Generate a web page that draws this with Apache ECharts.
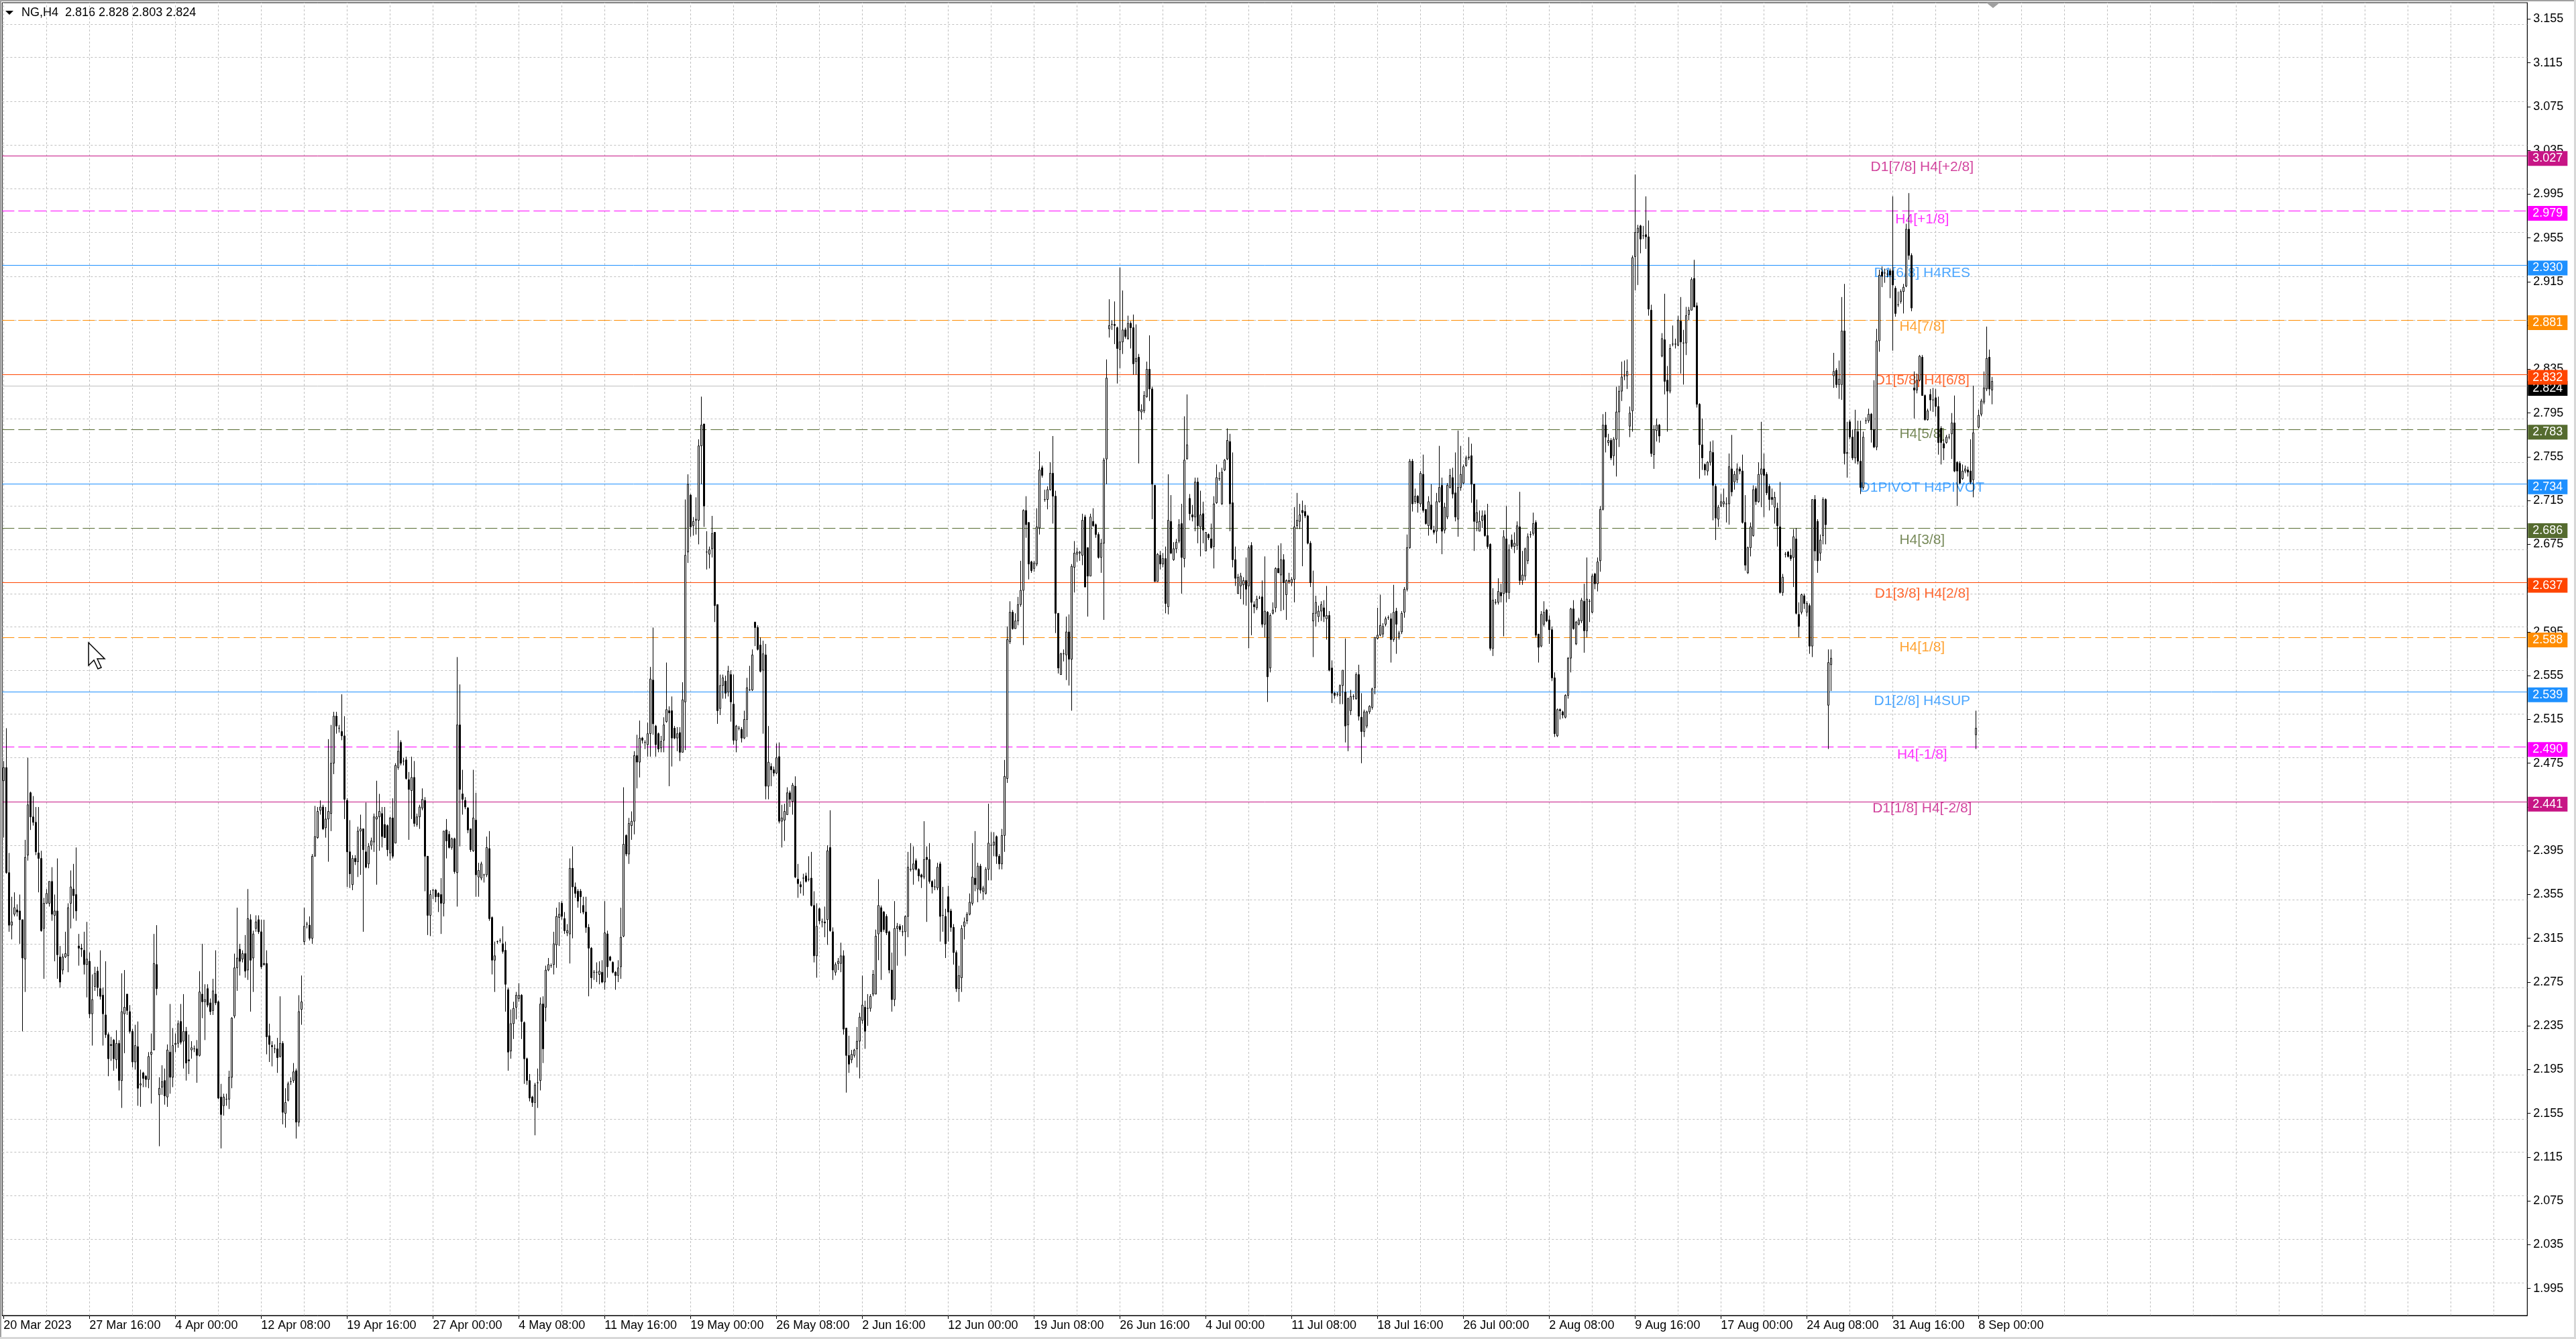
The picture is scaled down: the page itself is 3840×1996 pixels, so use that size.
<!DOCTYPE html>
<html>
<head>
<meta charset="utf-8">
<title>NG,H4</title>
<script src="https://cdn.jsdelivr.net/npm/echarts@6.0.0/dist/echarts.min.js"></script>
<style>
    html, body { margin: 0; padding: 0; background: #fff; }
    #chart { width: 3840px; height: 1996px; }
</style>
</head>
<body>
<div id="chart"></div>
<script>
/*
   NG,H4 candles with D1 / H4 octave levels
   bar = [open, close, low, high]
*/

// ========================================
// candles, read bar by bar
// ========================================

const barsMarApr = [
[2.459,2.471,2.407,2.477],[2.471,2.375,2.374,2.507],[2.375,2.327,2.321,2.393],[2.327,2.330,2.314,2.353],
[2.337,2.343,2.335,2.357],[2.341,2.339,2.335,2.346],[2.340,2.332,2.310,2.355],[2.332,2.297,2.230,2.332],
[2.296,2.389,2.266,2.405],[2.391,2.437,2.386,2.480],[2.448,2.426,2.414,2.449],[2.426,2.421,2.418,2.445],
[2.421,2.394,2.391,2.435],[2.393,2.388,2.357,2.435],[2.388,2.322,2.321,2.395],[2.324,2.347,2.278,2.352],
[2.347,2.356,2.347,2.360],[2.347,2.367,2.344,2.367],[2.367,2.337,2.331,2.380],[2.336,2.340,2.294,2.355],
[2.340,2.300,2.278,2.388],[2.298,2.275,2.270,2.308],[2.286,2.298,2.282,2.301],[2.298,2.301,2.297,2.321],
[2.299,2.343,2.284,2.347],[2.347,2.362,2.324,2.377],[2.360,2.354,2.333,2.383],[2.355,2.340,2.331,2.398],
[2.308,2.306,2.290,2.319],[2.306,2.305,2.298,2.310],[2.304,2.291,2.282,2.321],[2.291,2.296,2.261,2.330],
[2.294,2.246,2.242,2.302],[2.246,2.259,2.217,2.282],[2.271,2.283,2.267,2.289],[2.285,2.270,2.262,2.289],
[2.269,2.262,2.259,2.304],[2.263,2.246,2.217,2.270],[2.245,2.227,2.224,2.294],[2.227,2.205,2.189,2.229],
[2.218,2.217,2.203,2.225],[2.222,2.205,2.194,2.223],[2.204,2.219,2.196,2.231],[2.219,2.185,2.176,2.222],
[2.185,2.248,2.160,2.283],[2.246,2.252,2.210,2.286],[2.264,2.249,2.245,2.264],[2.248,2.230,2.228,2.254],
[2.230,2.202,2.197,2.232],[2.202,2.217,2.195,2.236],[2.216,2.178,2.162,2.239],[2.181,2.182,2.161,2.195],
[2.192,2.187,2.179,2.193],[2.189,2.186,2.179,2.190],[2.186,2.207,2.178,2.211],[2.209,2.211,2.164,2.228],
[2.213,2.292,2.213,2.319],[2.291,2.269,2.263,2.327],[2.172,2.178,2.125,2.188],[2.179,2.184,2.172,2.199],
[2.185,2.171,2.163,2.196],[2.170,2.213,2.161,2.218],[2.211,2.188,2.173,2.255],[2.188,2.217,2.179,2.233],
[2.218,2.219,2.211,2.228],[2.219,2.237,2.215,2.240],[2.239,2.220,2.218,2.255],[2.221,2.230,2.196,2.264],
[2.230,2.201,2.185,2.234],[2.204,2.203,2.191,2.227],[2.213,2.215,2.205,2.221],[2.214,2.214,2.211,2.217],
[2.214,2.208,2.183,2.222],[2.208,2.266,2.207,2.285],[2.264,2.257,2.242,2.310],[2.257,2.259,2.222,2.273],
[2.269,2.254,2.252,2.273],[2.256,2.248,2.245,2.260],[2.249,2.267,2.245,2.278],[2.264,2.256,2.254,2.304],
[2.257,2.169,2.168,2.258],[2.170,2.154,2.123,2.182],[2.162,2.170,2.153,2.173],[2.168,2.168,2.162,2.173],
[2.168,2.188,2.159,2.194],[2.188,2.242,2.178,2.243],[2.244,2.288,2.242,2.301],[2.288,2.297,2.267,2.343],
[2.305,2.294,2.281,2.310],[2.296,2.301,2.293,2.304],[2.301,2.285,2.279,2.318],[2.286,2.333,2.277,2.360],
[2.332,2.295,2.248,2.337],[2.297,2.319,2.266,2.322],[2.324,2.330,2.321,2.336],[2.332,2.321,2.319,2.336],
[2.321,2.289,2.287,2.332],[2.292,2.291,2.290,2.332],[2.292,2.225,2.209,2.304],[2.226,2.218,2.202,2.237],
[2.217,2.216,2.198,2.221],[2.214,2.214,2.210,2.218],[2.214,2.206,2.192,2.224],[2.207,2.219,2.206,2.262],
[2.219,2.156,2.145,2.221],[2.155,2.165,2.142,2.178],[2.167,2.182,2.166,2.184],[2.184,2.184,2.181,2.188],
[2.185,2.193,2.183,2.201]
];

const barsAprMay = [
[2.194,2.147,2.132,2.196],[2.147,2.248,2.143,2.263],[2.250,2.257,2.236,2.281],[2.312,2.326,2.309,2.343],
[2.328,2.328,2.324,2.330],[2.327,2.315,2.313,2.335],[2.315,2.390,2.310,2.392],[2.390,2.408,2.390,2.436],
[2.407,2.431,2.406,2.435],[2.432,2.435,2.428,2.441],[2.435,2.415,2.414,2.437],[2.416,2.424,2.407,2.435],
[2.424,2.431,2.385,2.497],[2.429,2.475,2.413,2.510],[2.475,2.518,2.465,2.522],[2.518,2.509,2.502,2.522],
[2.507,2.507,2.503,2.510],[2.504,2.500,2.496,2.538],[2.500,2.442,2.424,2.518],[2.441,2.394,2.362,2.443],
[2.394,2.374,2.361,2.423],[2.364,2.388,2.359,2.391],[2.388,2.385,2.382,2.391],[2.385,2.413,2.371,2.417],
[2.413,2.415,2.373,2.428],[2.415,2.396,2.321,2.415],[2.394,2.380,2.379,2.439],[2.383,2.399,2.379,2.402],
[2.400,2.404,2.396,2.407],[2.403,2.426,2.394,2.429],[2.424,2.426,2.364,2.459],[2.426,2.431,2.395,2.447],
[2.429,2.408,2.398,2.435],[2.419,2.407,2.407,2.435],[2.418,2.396,2.390,2.419],[2.393,2.425,2.386,2.426],
[2.425,2.390,2.388,2.443],[2.402,2.473,2.402,2.475],[2.471,2.486,2.469,2.505],[2.494,2.475,2.473,2.496],
[2.477,2.477,2.473,2.480],[2.478,2.461,2.460,2.481],[2.460,2.451,2.405,2.467],[2.450,2.462,2.424,2.481],
[2.462,2.420,2.417,2.477],[2.419,2.426,2.417,2.429],[2.426,2.435,2.415,2.437],[2.434,2.442,2.432,2.452],
[2.441,2.390,2.358,2.444],[2.390,2.336,2.318,2.390],[2.336,2.355,2.317,2.359],[2.359,2.359,2.351,2.360],
[2.359,2.353,2.348,2.360],[2.356,2.353,2.339,2.357],[2.355,2.347,2.319,2.370],[2.347,2.413,2.335,2.413],
[2.414,2.404,2.388,2.424],[2.410,2.398,2.397,2.413],[2.398,2.406,2.396,2.407],[2.406,2.376,2.374,2.407],
[2.375,2.510,2.344,2.572],[2.510,2.451,2.399,2.547],[2.447,2.442,2.428,2.469],[2.441,2.435,2.433,2.444],
[2.434,2.414,2.411,2.435],[2.415,2.396,2.394,2.415],[2.395,2.425,2.394,2.469],[2.423,2.373,2.353,2.448],
[2.371,2.377,2.353,2.384],[2.370,2.383,2.368,2.385],[2.373,2.373,2.366,2.374],[2.373,2.398,2.371,2.408],
[2.397,2.333,2.331,2.413],[2.334,2.295,2.282,2.335],[2.295,2.299,2.266,2.312],[2.312,2.312,2.310,2.313],
[2.313,2.313,2.311,2.315],[2.310,2.303,2.301,2.326],[2.304,2.273,2.248,2.312],[2.268,2.211,2.194,2.270],
[2.212,2.237,2.205,2.250],[2.237,2.251,2.223,2.257],[2.252,2.263,2.241,2.266],[2.260,2.263,2.257,2.274],
[2.263,2.239,2.223,2.264],[2.238,2.205,2.182,2.239],[2.205,2.185,2.181,2.206],[2.185,2.169,2.166,2.191],
[2.170,2.165,2.161,2.171],[2.165,2.181,2.135,2.183],[2.183,2.183,2.160,2.196],[2.185,2.255,2.176,2.261],
[2.255,2.214,2.201,2.262],[2.252,2.286,2.239,2.290],[2.286,2.291,2.285,2.297],[2.290,2.290,2.288,2.292],
[2.291,2.310,2.282,2.321],[2.309,2.335,2.288,2.343],[2.334,2.337,2.308,2.348],[2.347,2.335,2.332,2.349],
[2.333,2.322,2.319,2.339],[2.320,2.322,2.317,2.328],[2.319,2.379,2.292,2.388],[2.379,2.362,2.315,2.399],
[2.362,2.356,2.352,2.366]
];

const barsMayJun = [
[2.358,2.349,2.343,2.360],[2.358,2.353,2.338,2.360],[2.345,2.339,2.337,2.353],[2.339,2.325,2.320,2.353],
[2.325,2.306,2.262,2.328],[2.306,2.279,2.269,2.307],[2.284,2.284,2.277,2.286],[2.284,2.284,2.275,2.293],
[2.282,2.285,2.273,2.294],[2.284,2.275,2.274,2.295],[2.275,2.320,2.268,2.349],[2.319,2.289,2.279,2.322],
[2.298,2.295,2.294,2.299],[2.293,2.284,2.283,2.294],[2.284,2.281,2.268,2.285],[2.281,2.288,2.275,2.295],
[2.289,2.316,2.278,2.343],[2.317,2.401,2.316,2.453],[2.409,2.392,2.390,2.410],[2.392,2.420,2.383,2.425],
[2.418,2.422,2.405,2.431],[2.422,2.482,2.410,2.486],[2.482,2.476,2.452,2.501],[2.476,2.498,2.462,2.514],
[2.498,2.496,2.493,2.499],[2.494,2.494,2.488,2.496],[2.492,2.502,2.481,2.512],[2.502,2.552,2.481,2.563],
[2.551,2.511,2.501,2.599],[2.509,2.492,2.481,2.510],[2.502,2.488,2.485,2.503],[2.489,2.495,2.485,2.500],
[2.496,2.510,2.485,2.517],[2.513,2.524,2.512,2.567],[2.523,2.521,2.454,2.527],[2.523,2.498,2.472,2.536],
[2.507,2.498,2.497,2.509],[2.498,2.502,2.486,2.508],[2.503,2.485,2.477,2.508],[2.485,2.533,2.485,2.549],
[2.531,2.665,2.487,2.716],[2.668,2.730,2.658,2.739],[2.720,2.691,2.682,2.721],[2.692,2.696,2.683,2.700],
[2.697,2.698,2.684,2.718],[2.697,2.765,2.675,2.771],[2.765,2.784,2.730,2.810],[2.785,2.710,2.691,2.785],
[2.668,2.668,2.652,2.687],[2.666,2.670,2.653,2.673],[2.671,2.685,2.663,2.701],[2.686,2.619,2.604,2.686],
[2.620,2.523,2.511,2.620],[2.525,2.546,2.519,2.556],[2.546,2.553,2.534,2.556],[2.550,2.539,2.534,2.555],
[2.540,2.559,2.536,2.564],[2.556,2.531,2.513,2.560],[2.529,2.496,2.492,2.556],[2.496,2.509,2.485,2.510],
[2.507,2.507,2.505,2.509],[2.506,2.498,2.494,2.508],[2.498,2.515,2.497,2.523],[2.515,2.544,2.499,2.553],
[2.542,2.542,2.541,2.564],[2.542,2.574,2.541,2.579],[2.604,2.599,2.582,2.604],[2.599,2.579,2.578,2.601],
[2.583,2.559,2.558,2.590],[2.560,2.575,2.502,2.587],[2.574,2.454,2.442,2.584],[2.454,2.476,2.442,2.509],
[2.472,2.469,2.454,2.475],[2.469,2.466,2.463,2.472],[2.466,2.480,2.465,2.493],[2.481,2.422,2.420,2.494],
[2.422,2.425,2.398,2.437],[2.423,2.431,2.404,2.438],[2.428,2.448,2.428,2.453],[2.448,2.442,2.435,2.450],
[2.440,2.455,2.428,2.457],[2.454,2.371,2.370,2.463],[2.369,2.365,2.352,2.383],[2.364,2.362,2.356,2.367],
[2.370,2.370,2.354,2.374],[2.372,2.367,2.366,2.375],[2.369,2.369,2.367,2.390],[2.370,2.345,2.344,2.394],
[2.345,2.299,2.293,2.358],[2.299,2.326,2.279,2.347],[2.342,2.331,2.328,2.343],[2.330,2.330,2.325,2.333],
[2.330,2.329,2.316,2.344],[2.332,2.395,2.309,2.400],[2.398,2.322,2.321,2.432],[2.321,2.286,2.277,2.325],
[2.284,2.291,2.281,2.293],[2.292,2.294,2.286,2.297],[2.292,2.299,2.284,2.311],[2.299,2.232,2.227,2.304],
[2.233,2.208,2.174,2.233],[2.208,2.200,2.192,2.226],[2.204,2.209,2.201,2.213],[2.208,2.213,2.206,2.214],
[2.214,2.221,2.197,2.234],[2.221,2.243,2.187,2.247],[2.240,2.254,2.237,2.281],[2.252,2.230,2.214,2.258],
[2.251,2.251,2.235,2.264],[2.251,2.262,2.248,2.264]
];

const barsJun = [
[2.264,2.282,2.262,2.286],[2.264,2.317,2.264,2.323],[2.319,2.345,2.295,2.369],[2.343,2.321,2.277,2.345],
[2.339,2.323,2.321,2.340],[2.335,2.320,2.318,2.337],[2.321,2.286,2.283,2.322],[2.286,2.259,2.248,2.302],
[2.259,2.324,2.253,2.349],[2.324,2.326,2.290,2.329],[2.326,2.323,2.321,2.328],[2.321,2.321,2.317,2.327],
[2.321,2.335,2.299,2.336],[2.335,2.380,2.316,2.394],[2.378,2.378,2.376,2.402],[2.378,2.383,2.364,2.399],
[2.386,2.378,2.377,2.388],[2.378,2.372,2.367,2.379],[2.373,2.371,2.361,2.374],[2.371,2.387,2.369,2.422],
[2.389,2.387,2.330,2.399],[2.387,2.367,2.365,2.402],[2.367,2.362,2.356,2.368],[2.362,2.362,2.359,2.369],
[2.361,2.380,2.359,2.384],[2.383,2.335,2.312,2.385],[2.336,2.336,2.321,2.362],[2.335,2.310,2.297,2.342],
[2.353,2.339,2.312,2.363],[2.340,2.325,2.321,2.342],[2.325,2.302,2.291,2.328],[2.302,2.269,2.266,2.304],
[2.269,2.281,2.257,2.290],[2.279,2.324,2.266,2.327],[2.326,2.330,2.314,2.334],[2.331,2.337,2.328,2.339],
[2.337,2.348,2.336,2.356],[2.347,2.371,2.345,2.402],[2.370,2.364,2.358,2.413],[2.360,2.381,2.348,2.384],
[2.381,2.359,2.356,2.383],[2.358,2.361,2.350,2.363],[2.356,2.378,2.355,2.380],[2.378,2.402,2.368,2.438],
[2.400,2.400,2.368,2.412],[2.400,2.403,2.390,2.412],[2.408,2.390,2.383,2.409],[2.390,2.383,2.378,2.392],
[2.383,2.409,2.378,2.415],[2.409,2.463,2.394,2.478],[2.461,2.588,2.457,2.600],[2.586,2.613,2.584,2.623],
[2.613,2.598,2.597,2.615],[2.598,2.605,2.598,2.612],[2.605,2.620,2.601,2.627],[2.620,2.633,2.618,2.660],
[2.633,2.706,2.583,2.707],[2.706,2.693,2.681,2.719],[2.695,2.657,2.643,2.695],[2.659,2.651,2.649,2.660],
[2.653,2.658,2.650,2.660],[2.657,2.691,2.655,2.708],[2.690,2.743,2.684,2.760],[2.745,2.738,2.736,2.747],
[2.716,2.716,2.714,2.725],[2.716,2.725,2.707,2.728],[2.725,2.740,2.724,2.750],[2.740,2.719,2.694,2.774],
[2.719,2.612,2.594,2.724],[2.612,2.562,2.557,2.612],[2.556,2.575,2.556,2.576],[2.575,2.575,2.568,2.579],
[2.574,2.595,2.551,2.609],[2.595,2.570,2.546,2.611],[2.570,2.655,2.523,2.657],[2.654,2.667,2.631,2.678],
[2.666,2.668,2.659,2.672],[2.667,2.668,2.660,2.669],[2.665,2.697,2.656,2.703],[2.700,2.636,2.636,2.702],
[2.672,2.646,2.609,2.672],[2.646,2.700,2.646,2.703],[2.696,2.692,2.691,2.708],[2.693,2.684,2.681,2.694],
[2.684,2.663,2.662,2.686],[2.663,2.676,2.649,2.680],[2.676,2.752,2.606,2.754],[2.753,2.827,2.730,2.844],
[2.872,2.875,2.864,2.899],[2.876,2.876,2.871,2.880],[2.876,2.875,2.858,2.897],[2.873,2.854,2.822,2.874],
[2.853,2.860,2.836,2.928],[2.860,2.871,2.849,2.907],[2.871,2.865,2.863,2.873],[2.863,2.877,2.862,2.884],
[2.877,2.873,2.854,2.879],[2.873,2.840,2.830,2.885],[2.842,2.845,2.830,2.876],[2.846,2.797,2.749,2.849],
[2.796,2.798,2.789,2.803],[2.797,2.811,2.795,2.815],[2.810,2.835,2.809,2.842],[2.835,2.817,2.806,2.866],
[2.817,2.730,2.698,2.819],[2.729,2.641,2.641,2.729],[2.641,2.666,2.641,2.667],[2.665,2.657,2.652,2.669],
[2.657,2.662,2.654,2.667],[2.662,2.621,2.612,2.673]
];

const barsJul = [
[2.618,2.697,2.611,2.739],[2.696,2.667,2.666,2.720],[2.661,2.671,2.660,2.677],[2.671,2.677,2.667,2.680],
[2.678,2.693,2.676,2.698],[2.694,2.663,2.630,2.712],[2.662,2.752,2.654,2.792],[2.753,2.766,2.753,2.812],
[2.717,2.703,2.697,2.721],[2.702,2.700,2.696,2.711],[2.700,2.732,2.687,2.736],[2.732,2.692,2.676,2.736],
[2.691,2.702,2.664,2.724],[2.703,2.688,2.676,2.714],[2.669,2.686,2.669,2.686],[2.684,2.681,2.679,2.685],
[2.680,2.672,2.671,2.694],[2.673,2.712,2.653,2.719],[2.713,2.736,2.712,2.748],[2.735,2.735,2.733,2.741],
[2.712,2.741,2.711,2.745],[2.743,2.752,2.742,2.753],[2.753,2.770,2.752,2.781],[2.769,2.712,2.687,2.776],
[2.713,2.661,2.654,2.759],[2.661,2.644,2.637,2.673],[2.630,2.645,2.630,2.648],[2.637,2.646,2.625,2.649],
[2.638,2.642,2.620,2.645],[2.642,2.634,2.619,2.663],[2.637,2.672,2.580,2.674],[2.674,2.622,2.592,2.677],
[2.620,2.618,2.612,2.623],[2.617,2.625,2.615,2.628],[2.626,2.626,2.625,2.628],[2.627,2.602,2.599,2.642],
[2.602,2.614,2.590,2.664],[2.613,2.554,2.531,2.614],[2.562,2.610,2.558,2.612],[2.612,2.615,2.611,2.622],
[2.617,2.653,2.613,2.654],[2.653,2.649,2.649,2.674],[2.647,2.661,2.614,2.676],[2.661,2.640,2.615,2.666],
[2.629,2.642,2.606,2.643],[2.642,2.641,2.639,2.649],[2.640,2.643,2.637,2.645],[2.643,2.691,2.622,2.709],
[2.692,2.697,2.689,2.722],[2.696,2.702,2.689,2.712],[2.706,2.704,2.655,2.715],[2.705,2.701,2.699,2.711],
[2.701,2.676,2.675,2.702],[2.676,2.640,2.636,2.678],[2.605,2.612,2.572,2.651],[2.612,2.622,2.600,2.628],
[2.609,2.614,2.604,2.619],[2.614,2.620,2.605,2.623],[2.617,2.609,2.604,2.624],[2.607,2.610,2.588,2.637],
[2.610,2.560,2.559,2.614],[2.562,2.539,2.530,2.569],[2.539,2.537,2.534,2.540],[2.538,2.538,2.536,2.540],
[2.537,2.546,2.529,2.547],[2.546,2.560,2.529,2.560],[2.540,2.509,2.494,2.589],[2.510,2.534,2.486,2.535],
[2.523,2.536,2.519,2.542],[2.536,2.536,2.533,2.538],[2.534,2.556,2.533,2.558],[2.556,2.518,2.514,2.565],
[2.517,2.504,2.475,2.539],[2.504,2.522,2.499,2.524],[2.509,2.522,2.507,2.523],[2.522,2.527,2.520,2.528],
[2.526,2.543,2.524,2.544],[2.544,2.590,2.538,2.590],[2.589,2.592,2.588,2.617],[2.592,2.601,2.591,2.629],
[2.593,2.600,2.590,2.603],[2.602,2.607,2.600,2.609],[2.608,2.608,2.606,2.610],[2.607,2.588,2.567,2.612],
[2.588,2.613,2.586,2.638],[2.614,2.602,2.575,2.617],[2.590,2.594,2.588,2.596],[2.595,2.612,2.593,2.614],
[2.613,2.634,2.608,2.636],[2.634,2.672,2.632,2.684],[2.672,2.751,2.671,2.753],[2.751,2.712,2.705,2.753],
[2.714,2.719,2.712,2.726],[2.719,2.713,2.704,2.720],[2.712,2.740,2.709,2.742],[2.739,2.706,2.704,2.757],
[2.707,2.694,2.693,2.707],[2.692,2.714,2.683,2.719],[2.711,2.689,2.688,2.730],[2.688,2.686,2.684,2.692],
[2.687,2.714,2.676,2.722],[2.714,2.727,2.713,2.765],[2.729,2.687,2.666,2.736],[2.688,2.709,2.685,2.713],
[2.700,2.729,2.698,2.731],[2.727,2.738,2.726,2.744],[2.736,2.721,2.717,2.745],[2.722,2.700,2.696,2.759],
[2.698,2.727,2.682,2.779],[2.727,2.739,2.724,2.765]
];

const barsJulAug = [
[2.731,2.746,2.730,2.748],[2.747,2.754,2.746,2.756],[2.754,2.755,2.752,2.773],[2.756,2.730,2.713,2.767],
[2.730,2.696,2.669,2.730],[2.695,2.704,2.687,2.716],[2.687,2.696,2.687,2.706],[2.697,2.701,2.690,2.706],
[2.702,2.683,2.682,2.706],[2.683,2.673,2.671,2.712],[2.675,2.580,2.578,2.676],[2.580,2.624,2.573,2.635],
[2.622,2.622,2.620,2.625],[2.622,2.632,2.620,2.644],[2.631,2.628,2.622,2.639],[2.630,2.682,2.591,2.688],
[2.680,2.631,2.622,2.710],[2.631,2.670,2.625,2.675],[2.679,2.673,2.671,2.684],[2.673,2.676,2.667,2.686],
[2.674,2.692,2.670,2.696],[2.691,2.642,2.638,2.723],[2.642,2.647,2.638,2.669],[2.646,2.671,2.642,2.672],
[2.660,2.682,2.657,2.685],[2.684,2.684,2.681,2.687],[2.685,2.694,2.683,2.704],[2.695,2.592,2.590,2.697],
[2.593,2.581,2.567,2.593],[2.582,2.611,2.581,2.614],[2.602,2.613,2.600,2.623],[2.615,2.605,2.604,2.616],
[2.606,2.597,2.584,2.610],[2.597,2.553,2.550,2.600],[2.553,2.502,2.499,2.558],[2.500,2.524,2.499,2.525],
[2.524,2.523,2.515,2.525],[2.522,2.519,2.516,2.523],[2.517,2.537,2.516,2.538],[2.537,2.571,2.534,2.572],
[2.571,2.616,2.558,2.617],[2.616,2.598,2.597,2.624],[2.584,2.604,2.583,2.605],[2.602,2.606,2.601,2.608],
[2.605,2.624,2.603,2.626],[2.623,2.596,2.576,2.639],[2.596,2.625,2.590,2.663],[2.623,2.623,2.604,2.625],
[2.613,2.646,2.612,2.648],[2.648,2.639,2.634,2.649],[2.639,2.659,2.632,2.663],[2.660,2.707,2.650,2.710],
[2.707,2.784,2.706,2.794],[2.784,2.773,2.759,2.796],[2.768,2.770,2.765,2.776],[2.770,2.754,2.752,2.772],
[2.756,2.771,2.747,2.773],[2.771,2.796,2.737,2.819],[2.796,2.815,2.764,2.820],[2.815,2.828,2.806,2.842],
[2.829,2.829,2.825,2.843],[2.829,2.833,2.817,2.844],[2.783,2.795,2.773,2.801],[2.797,2.937,2.778,2.939],
[2.938,2.960,2.907,3.013],[2.960,2.964,2.912,2.967],[2.966,2.954,2.941,2.967],[2.957,2.957,2.954,2.966],
[2.958,2.956,2.945,2.993],[2.956,2.890,2.884,2.971],[2.889,2.758,2.755,2.894],[2.757,2.780,2.744,2.784],
[2.779,2.784,2.769,2.790],[2.784,2.774,2.768,2.785],[2.847,2.863,2.846,2.868],[2.862,2.824,2.812,2.904],
[2.825,2.815,2.778,2.838],[2.815,2.854,2.813,2.858],[2.858,2.858,2.856,2.875],[2.858,2.858,2.854,2.863],
[2.857,2.880,2.856,2.884],[2.879,2.860,2.831,2.901],[2.859,2.859,2.821,2.871],[2.859,2.884,2.848,2.892],
[2.885,2.889,2.880,2.892],[2.889,2.917,2.889,2.919],[2.918,2.892,2.892,2.935],[2.893,2.803,2.800,2.896],
[2.803,2.766,2.735,2.804],[2.766,2.754,2.743,2.790],[2.748,2.743,2.738,2.749],[2.742,2.750,2.738,2.751],
[2.750,2.760,2.747,2.769],[2.759,2.729,2.697,2.770],[2.728,2.699,2.679,2.730],[2.698,2.709,2.691,2.711],
[2.710,2.714,2.709,2.721],[2.712,2.714,2.709,2.726],[2.712,2.712,2.695,2.718],[2.712,2.746,2.693,2.758],
[2.744,2.723,2.719,2.775],[2.732,2.739,2.725,2.742],[2.734,2.744,2.731,2.749],[2.744,2.742,2.739,2.746],
[2.742,2.695,2.694,2.757],[2.695,2.656,2.651,2.720],[2.649,2.672,2.648,2.673],[2.672,2.691,2.664,2.695],
[2.683,2.725,2.682,2.729],[2.726,2.714,2.711,2.728]
];

const barsAugSep = [
[2.714,2.739,2.713,2.750],[2.739,2.744,2.709,2.787],[2.744,2.738,2.700,2.758],[2.739,2.722,2.720,2.741],
[2.728,2.716,2.706,2.730],[2.718,2.716,2.711,2.726],[2.709,2.718,2.694,2.723],[2.708,2.692,2.673,2.713],
[2.691,2.631,2.630,2.732],[2.631,2.645,2.628,2.648],[2.666,2.666,2.663,2.668],[2.668,2.664,2.663,2.669],
[2.665,2.662,2.660,2.671],[2.663,2.682,2.636,2.689],[2.680,2.612,2.611,2.690],[2.611,2.600,2.590,2.622],
[2.613,2.629,2.611,2.630],[2.628,2.621,2.616,2.630],[2.613,2.621,2.609,2.623],[2.619,2.582,2.575,2.621],
[2.582,2.716,2.572,2.716],[2.716,2.669,2.660,2.720],[2.696,2.660,2.649,2.698],[2.667,2.679,2.660,2.684],
[2.683,2.716,2.675,2.718],[2.716,2.693,2.675,2.717],[2.528,2.567,2.488,2.579],[2.565,2.571,2.541,2.579],
[2.829,2.833,2.818,2.850],[2.834,2.821,2.818,2.836],[2.821,2.826,2.808,2.843],[2.821,2.870,2.807,2.901],
[2.870,2.758,2.748,2.913],[2.758,2.759,2.736,2.787],[2.787,2.773,2.771,2.789],[2.773,2.754,2.752,2.780],
[2.754,2.780,2.749,2.798],[2.778,2.751,2.748,2.788],[2.751,2.727,2.721,2.788],[2.727,2.773,2.725,2.778],
[2.788,2.788,2.785,2.791],[2.788,2.794,2.786,2.799],[2.794,2.780,2.768,2.795],[2.780,2.764,2.763,2.825],
[2.764,2.861,2.761,2.872],[2.861,2.921,2.851,2.926],[2.924,2.920,2.910,2.929],[2.923,2.923,2.914,2.927],
[2.922,2.922,2.919,2.926],[2.925,2.921,2.900,2.927],[2.925,2.912,2.852,2.993],[2.909,2.886,2.883,2.911],
[2.894,2.894,2.892,2.906],[2.897,2.906,2.895,2.908],[2.906,2.910,2.886,2.913],[2.911,2.963,2.910,2.968],
[2.963,2.939,2.935,2.996],[2.939,2.891,2.888,2.941],[2.818,2.816,2.790,2.833],[2.816,2.825,2.813,2.831],
[2.825,2.847,2.824,2.848],[2.846,2.811,2.811,2.848],[2.811,2.789,2.788,2.812],[2.789,2.797,2.788,2.799],
[2.812,2.807,2.797,2.817],[2.807,2.807,2.796,2.818],[2.809,2.801,2.792,2.817],[2.801,2.768,2.757,2.810],
[2.781,2.768,2.748,2.783],[2.767,2.763,2.752,2.771],[2.768,2.773,2.767,2.775],[2.773,2.773,2.771,2.776],
[2.776,2.786,2.753,2.795],[2.786,2.742,2.741,2.811],[2.750,2.742,2.710,2.751],[2.749,2.731,2.730,2.751],
[2.735,2.742,2.734,2.748],[2.742,2.744,2.740,2.747],[2.743,2.741,2.737,2.746],[2.742,2.732,2.730,2.771],
[2.734,2.777,2.718,2.820],[2.501,2.507,2.488,2.523],[2.782,2.793,2.781,2.798],[2.794,2.806,2.792,2.808],
[2.805,2.818,2.803,2.833],[2.817,2.845,2.815,2.874],[2.846,2.817,2.811,2.853],[2.816,2.824,2.803,2.828]
];

// ========================================
// axes
// ========================================

const slotCount = 941;          // bar slots incl. empty shift area
const labelStep = 32;
const gridStep = 16;

const timeLabels = [
    "20 Mar 2023", "27 Mar 16:00", "4 Apr 00:00", "12 Apr 08:00",
    "19 Apr 16:00", "27 Apr 00:00", "4 May 08:00", "11 May 16:00",
    "19 May 00:00", "26 May 08:00", "2 Jun 16:00", "12 Jun 00:00",
    "19 Jun 08:00", "26 Jun 16:00", "4 Jul 00:00", "11 Jul 08:00",
    "18 Jul 16:00", "26 Jul 00:00", "2 Aug 08:00", "9 Aug 16:00",
    "17 Aug 00:00", "24 Aug 08:00", "31 Aug 16:00", "8 Sep 00:00"
];

const priceTicks = [
    1.995, 2.035, 2.075, 2.115, 2.155, 2.195, 2.235, 2.275, 2.315, 2.355,
    2.395, 2.435, 2.475, 2.515, 2.555, 2.595, 2.635, 2.675, 2.715, 2.755,
    2.795, 2.835, 2.875, 2.915, 2.955, 2.995, 3.035, 3.075, 3.115, 3.155
];

const priceMin = 1.9703;
const priceMax = 3.1700;

// ========================================
// levels
// ========================================

const levelValues = [
    3.027, 2.979, 2.930, 2.881, 2.832, 2.783, 2.734,
    2.686, 2.637, 2.588, 2.539, 2.490, 2.441
];

const levelNames = [
    "D1[7/8] H4[+2/8]", "H4[+1/8]", "D1[6/8] H4RES", "H4[7/8]",
    "D1[5/8] H4[6/8]", "H4[5/8]", "D1PIVOT H4PIVOT", "H4[3/8]",
    "D1[3/8] H4[2/8]", "H4[1/8]", "D1[2/8] H4SUP", "H4[-1/8]",
    "D1[1/8] H4[-2/8]"
];

const levelColors = [
    "#C71585", "#FF00FF", "#1E90FF", "#FF8C00", "#FF4500", "#556B2F", "#1E90FF",
    "#556B2F", "#FF4500", "#FF8C00", "#1E90FF", "#FF00FF", "#C71585"
];

const levelDashed = [
    false, true, false, true, false, true, false,
    true, false, true, false, true, false
];

const levelTextSlot = 715;
const bidPrice = 2.824;
const header = "NG,H4  2.816 2.828 2.803 2.824";

// ========================================
// build
// ========================================

const FONT = "'Liberation Sans', Arial, sans-serif";

const candles = [].concat(
    barsMarApr, barsAprMay, barsMayJun, barsJun,
    barsJul, barsJulAug, barsAugSep
);

const slots = Array.from(
    { length: slotCount },
    (_, i) => i
);

function isLabelSlot(i) {
    return i % labelStep === 0 &&
        i / labelStep < timeLabels.length;
}

function gridLines() {
    let lines = [];
    priceTicks.forEach(v => lines.push({ yAxis: v }));
    for (let i = 0; i < slotCount; i += gridStep) {
        lines.push({ xAxis: i });
    }
    return lines;
}

// price tag text is fixed per line, the axis would round it
function levelLines() {
    let lines = [{
        yAxis: bidPrice,
        lineStyle: { color: "#c0c0c0", type: "solid" },
        label: {
            backgroundColor: "#000",
            formatter: bidPrice.toFixed(3)
        }
    }];
    levelValues.forEach((v, i) => {
        lines.push({
            yAxis: v,
            lineStyle: {
                color: levelColors[i],
                type: levelDashed[i] ? [18, 6] : "solid"
            },
            label: {
                backgroundColor: levelColors[i],
                formatter: v.toFixed(3)
            }
        });
    });
    return lines;
}

function levelTexts() {
    return levelValues.map((v, i) => ({
        value: [levelTextSlot, v],
        label: { color: levelColors[i], formatter: levelNames[i] }
    }));
}

const chart = echarts.init(
    document.getElementById("chart"),
    null,
    { renderer: "canvas" }
);

chart.setOption({
    animation: false,
    backgroundColor: "#fff",
    grid: {
        left: 3.33,
        right: 72.7,
        top: 4,
        bottom: 35,
        show: true,
        borderColor: "#000",
        borderWidth: 1,
        backgroundColor: "#fff"
    },
    xAxis: {
        type: "category",
        data: slots,
        boundaryGap: true,
        axisLine: { show: true, lineStyle: { color: "#000", width: 1 } },
        axisTick: {
            show: true,
            alignWithLabel: true,
            interval: isLabelSlot,
            length: 5,
            lineStyle: { color: "#000" }
        },
        axisLabel: {
            interval: isLabelSlot,
            formatter: (v, idx) => timeLabels[Math.round(idx / labelStep)] || "",
            align: "left",
            margin: 6,
            color: "#000",
            fontFamily: FONT,
            fontSize: 18
        },
        splitLine: { show: false }
    },
    yAxis: {
        type: "value",
        position: "right",
        min: priceMin,
        max: priceMax,
        scale: true,
        axisLine: { show: true, lineStyle: { color: "#000", width: 1 } },
        axisTick: {
            show: true,
            customValues: priceTicks,
            length: 5,
            lineStyle: { color: "#000" }
        },
        axisLabel: {
            customValues: priceTicks,
            formatter: v => v.toFixed(3),
            margin: 9,
            color: "#000",
            fontFamily: FONT,
            fontSize: 18
        },
        splitLine: { show: false }
    },
    series: [{
        name: "grid",
        type: "line",
        data: [],
        clip: false,
        silent: true,
        markLine: {
            z: 1,
            silent: true,
            symbol: ["none", "none"],
            label: { show: false },
            lineStyle: { color: "#c0c0c0", type: [3, 3], width: 1 },
            emphasis: { disabled: true },
            data: gridLines()
        }
    }, {
        name: "levels",
        type: "line",
        data: [],
        clip: false,
        silent: true,
        markLine: {
            z: 2,
            silent: true,
            symbol: ["none", "none"],
            lineStyle: { width: 1 },
            emphasis: { disabled: true },
            label: {
                show: true,
                position: "end",
                distance: 1,
                offset: [0, 4],
                color: "#fff",
                fontFamily: FONT,
                fontSize: 18,
                lineHeight: 18,
                padding: [2, 7, 2, 7]
            },
            data: levelLines()
        }
    }, {
        name: "levelText",
        type: "scatter",
        z: 2,
        silent: true,
        symbolSize: 0,
        clip: false,
        label: {
            show: true,
            position: "bottom",
            distance: 1,
            fontFamily: FONT,
            fontSize: 21,
            lineHeight: 22
        },
        data: levelTexts()
    }, {
        name: "NG,H4",
        type: "candlestick",
        z: 3,
        large: false,
        clip: false,
        barWidth: 2,
        data: candles,
        itemStyle: {
            color: "#fff",
            color0: "#000",
            borderColor: "#000",
            borderColor0: "#000",
            borderColorDoji: "#000",
            borderWidth: 1
        }
    }],
    graphic: [{
        type: "rect",
        silent: true,
        shape: { x: 0, y: 0, width: 3840, height: 2 },
        style: { fill: "#a0a0a0" }
    }, {
        type: "rect",
        silent: true,
        shape: { x: 0, y: 0, width: 2, height: 1996 },
        style: { fill: "#a0a0a0" }
    }, {
        type: "rect",
        silent: true,
        shape: { x: 3837, y: 0, width: 3, height: 1996 },
        style: { fill: "#d8d8d8" }
    }, {
        type: "rect",
        silent: true,
        shape: { x: 0, y: 1993, width: 3840, height: 3 },
        style: { fill: "#d8d8d8" }
    }, {
        type: "polygon",
        silent: true,
        shape: { points: [[2961, 4], [2981, 4], [2971, 12]] },
        style: { fill: "#a0a0a0" }
    }, {
        type: "polygon",
        silent: true,
        shape: { points: [[8, 16], [20, 16], [14, 22]] },
        style: { fill: "#000" }
    }, {
        type: "text",
        silent: true,
        x: 32,
        y: 19.5,
        style: {
            text: header,
            fill: "#000",
            font: "18px " + FONT,
            textVerticalAlign: "middle"
        }
    }, {
        // mouse pointer left in the screenshot
        type: "polygon",
        silent: true,
        z: 100,
        shape: {
            points: [[132, 958], [132, 992], [140, 984], [146, 997],
                     [151, 995], [145, 982], [156, 982]]
        },
        style: { fill: "#fff", stroke: "#000", lineWidth: 1.5 }
    }]
});
</script>
</body>
</html>
